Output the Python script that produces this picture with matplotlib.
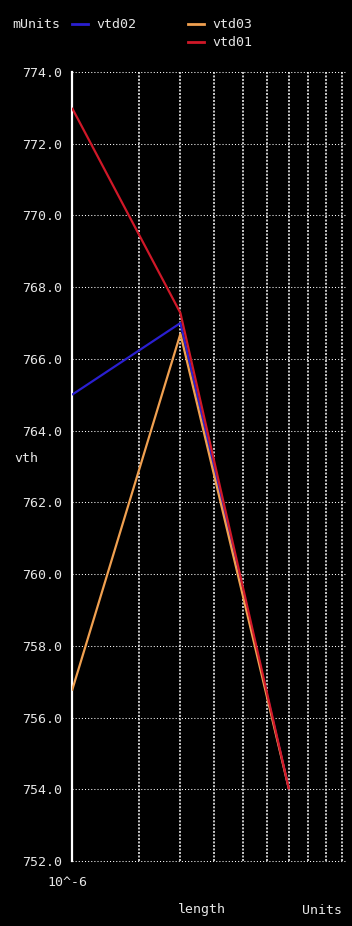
import matplotlib
matplotlib.use("Agg")
import matplotlib.pyplot as plt

# Sweep of device length (units of 1e-6) versus threshold voltage (mV)
length = [2.78, 5.0, 9.0]
vtd02 = [765.0, 767.0, 754.0]
vtd03 = [756.75, 766.7, 754.0]
vtd01 = [773.0, 767.28, 754.0]

series_names = ["vtd02", "vtd03", "vtd01"]
series_colors = ["#2a1fd0", "#f0a050", "#d01828"]

y_ticks = [752.0, 754.0, 756.0, 758.0, 760.0, 762.0, 764.0, 766.0, 768.0, 770.0, 772.0, 774.0]
x_grid = [4, 5, 6, 7, 8, 9, 10, 11, 12]
x_limits = (2.78, 12.19)

W, H, DPI = 352, 926, 100
fig = plt.figure(figsize=(W / DPI, H / DPI), dpi=DPI, facecolor="black")
mono = "DejaVu Sans Mono"
txt = "#e6e6e6"

left, right, top, bottom = 72, 345, 72, 861
ax = fig.add_axes([left / W, (H - bottom) / H, (right - left) / W, (bottom - top) / H])
ax.set_facecolor("black")
ax.set_xscale("log")
ax.set_xlim(*x_limits)
ax.set_ylim(y_ticks[0], y_ticks[-1])

# dotted grid
for yv in y_ticks:
    ax.axhline(yv, color="white", lw=0.75, ls=(0, (1, 2)), zorder=1, clip_on=False)
for xv in x_grid:
    ax.axvline(xv, color="white", lw=1.1, ls=(0, (1.3, 1.0)), zorder=1)

for name, vals, col in zip(series_names, [vtd02, vtd03, vtd01], series_colors):
    ax.plot(length, vals, color=col, lw=1.6, zorder=3, solid_capstyle="butt")

for s in ["top", "right", "bottom"]:
    ax.spines[s].set_visible(False)
ax.spines["left"].set_color("white")
ax.spines["left"].set_linewidth(1.6)
ax.set_xticks([])
ax.xaxis.set_minor_locator(matplotlib.ticker.NullLocator())
ax.set_yticks(y_ticks)
ax.set_yticklabels([f"{v:.1f}" for v in y_ticks], family=mono, fontsize=9.5, color=txt)
ax.tick_params(axis="y", length=0, pad=7)

def px(x, y, s, **kw):
    fig.text(x / W, 1 - y / H, s, family=mono, fontsize=9.5, color=txt, va="center", **kw)

# legend header
px(12, 24, "mUnits")
leg_pos = [(72, 24), (188, 24), (188, 42)]
for (lx, ly), name, col in zip(leg_pos, series_names, series_colors):
    fig.add_artist(plt.Line2D([lx / W, (lx + 16) / W], [1 - ly / H, 1 - ly / H],
                              color=col, lw=2.0, transform=fig.transFigure))
    px(lx + 24, ly, name)

px(14, 458, "vth")
px(47, 882, "10^-6")
px(178, 910, "length")
px(302, 910, "Units")

fig.savefig("out.png", dpi=DPI, facecolor="black")
